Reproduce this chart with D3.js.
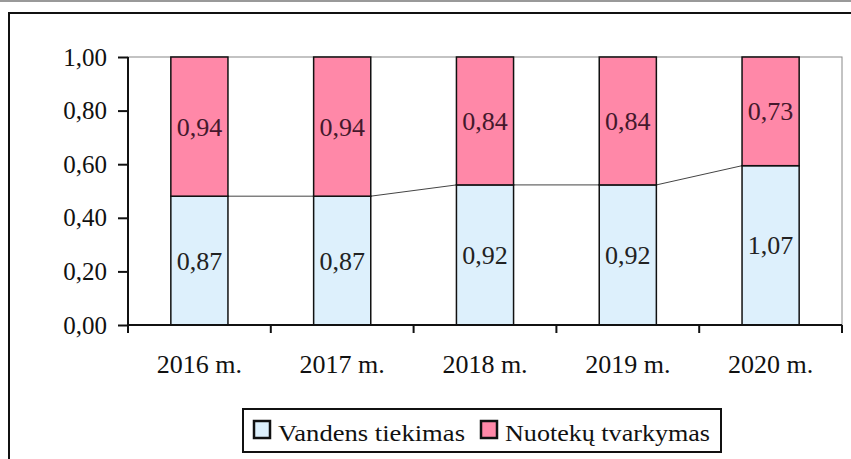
<!DOCTYPE html>
<html>
<head>
<meta charset="utf-8">
<script src="https://cdn.jsdelivr.net/npm/d3@7"></script>
<style>
  body { margin: 0; background: #fff; }
  svg { display: block; }
</style>
</head>
<body>
<svg width="851" height="459"></svg>
<script>
// duomenys
var years = ["2016 m.", "2017 m.", "2018 m.", "2019 m.", "2020 m."];
var vandens = [0.87, 0.87, 0.92, 0.92, 1.07];
var nuoteku = [0.94, 0.94, 0.84, 0.84, 0.73];
var yTicks = [0, 0.2, 0.4, 0.6, 0.8, 1.0];
var seriesNames = ["Vandens tiekimas", "Nuotekų tvarkymas"];

var COLORS = ["#ddf0fc", "#ff88a8"];
var FONT = "'Liberation Serif','Times New Roman',serif";

var svg = d3.select("svg").style("font-family", FONT);

// rėmeliai
svg.append("line")
    .attr("x1", 0).attr("x2", 851).attr("y1", 1).attr("y2", 1)
    .attr("stroke", "#999").attr("stroke-width", 2);
svg.append("rect")
    .attr("x", 9).attr("y", 13).attr("width", 900).attr("height", 500)
    .attr("fill", "none").attr("stroke", "#111").attr("stroke-width", 2);

var plot = {left: 128, top: 57, right: 842, bottom: 325};

var x = d3.scaleBand().domain(years).range([plot.left, plot.right]).paddingInner(0.6).paddingOuter(0.3);
var y = d3.scaleLinear().domain([0, 1]).range([plot.bottom, plot.top]);

// plot area border
svg.append("rect")
    .attr("x", plot.left).attr("y", plot.top)
    .attr("width", plot.right - plot.left).attr("height", plot.bottom - plot.top)
    .attr("fill", "none").attr("stroke", "#888").attr("stroke-width", 1);

// 100% sukrauti duomenys
var rows = years.map(function(yr, i){
    var tot = vandens[i] + nuoteku[i];
    return {year: yr, v: vandens[i], n: nuoteku[i], vs: vandens[i] / tot};
});

// series lines
var g_lines = svg.append("g");
for (var i = 0; i < rows.length - 1; i++) {
    g_lines.append("line")
        .attr("x1", x(rows[i].year) + x.bandwidth())
        .attr("x2", x(rows[i+1].year))
        .attr("y1", y(rows[i].vs))
        .attr("y2", y(rows[i+1].vs))
        .attr("stroke", "#444").attr("stroke-width", 1);
}

// stulpeliai
var g_bars = svg.append("g");
g_bars.selectAll(".bv").data(rows).enter().append("rect")
    .attr("x", function(d){ return x(d.year); })
    .attr("width", x.bandwidth())
    .attr("y", function(d){ return y(d.vs); })
    .attr("height", function(d){ return y(0) - y(d.vs); })
    .attr("fill", COLORS[0]).attr("stroke", "#111").attr("stroke-width", 1.5);
g_bars.selectAll(".bn").data(rows).enter().append("rect")
    .attr("x", function(d){ return x(d.year); })
    .attr("width", x.bandwidth())
    .attr("y", y(1))
    .attr("height", function(d){ return y(d.vs) - y(1); })
    .attr("fill", COLORS[1]).attr("stroke", "#111").attr("stroke-width", 1.5);

// reikšmės
function fmt(v){ return v.toFixed(2).replace(".", ","); }
g_bars.selectAll(".lv").data(rows).enter().append("text")
    .attr("x", function(d){ return x(d.year) + x.bandwidth() / 2; })
    .attr("y", function(d){ return (y(0) + y(d.vs)) / 2; })
    .attr("dy", "0.35em")
    .attr("text-anchor", "middle")
    .attr("font-size", 26).attr("fill", "#222")
    .text(function(d){ return fmt(d.v); });
g_bars.selectAll(".ln").data(rows).enter().append("text")
    .attr("x", function(d){ return x(d.year) + x.bandwidth() / 2; })
    .attr("y", function(d){ return (y(1) + y(d.vs)) / 2; })
    .attr("dy", "0.35em")
    .attr("text-anchor", "middle")
    .attr("font-size", 26).attr("fill", "#44182c")
    .text(function(d){ return fmt(d.n); });

// ašys
var yAxis = svg.append("g")
    .attr("transform", "translate(" + plot.left + ",0)")
    .call(d3.axisLeft(y).tickValues(yTicks).tickFormat(fmt).tickSize(10).tickPadding(11));
yAxis.select(".domain").attr("stroke", "#111").attr("stroke-width", 2)
    .attr("d", "M0," + plot.top + "V" + (plot.bottom + 7));
yAxis.selectAll(".tick line").attr("stroke", "#111").attr("stroke-width", 2);
yAxis.selectAll(".tick text").attr("font-size", 25).attr("font-family", FONT).attr("fill", "#111");

var xAxis = svg.append("g")
    .attr("transform", "translate(0," + plot.bottom + ")");
xAxis.append("line")
    .attr("x1", plot.left).attr("x2", plot.right)
    .attr("stroke", "#111").attr("stroke-width", 2);
var bounds = d3.range(years.length + 1).map(function(k){ return plot.left + k * (plot.right - plot.left) / years.length; });
xAxis.selectAll(".xt").data(bounds).enter().append("line")
    .attr("x1", function(d){ return d; }).attr("x2", function(d){ return d; })
    .attr("y1", 0).attr("y2", 8)
    .attr("stroke", "#111").attr("stroke-width", 2);
xAxis.selectAll(".xl").data(years).enter().append("text")
    .attr("x", function(d){ return x(d) + x.bandwidth() / 2; })
    .attr("y", 48)
    .attr("text-anchor", "middle")
    .attr("font-size", 26).attr("fill", "#111")
    .text(function(d){ return d; });

// legenda
var lg = svg.append("g");
lg.append("rect")
    .attr("x", 243).attr("y", 409).attr("width", 478).attr("height", 43)
    .attr("fill", "#fff").attr("stroke", "#111").attr("stroke-width", 2);
var legendX = [254, 481];
var legendW = [187, 205];
seriesNames.forEach(function(name, i){
    lg.append("rect")
        .attr("x", legendX[i]).attr("y", 421).attr("width", 16).attr("height", 17)
        .attr("fill", COLORS[i]).attr("stroke", "#111").attr("stroke-width", 2.5);
    lg.append("text")
        .attr("x", legendX[i] + 24).attr("y", 441)
        .attr("font-size", 24).attr("fill", "#111")
        .attr("textLength", legendW[i]).attr("lengthAdjust", "spacingAndGlyphs")
        .text(name);
});
</script>
</body>
</html>
